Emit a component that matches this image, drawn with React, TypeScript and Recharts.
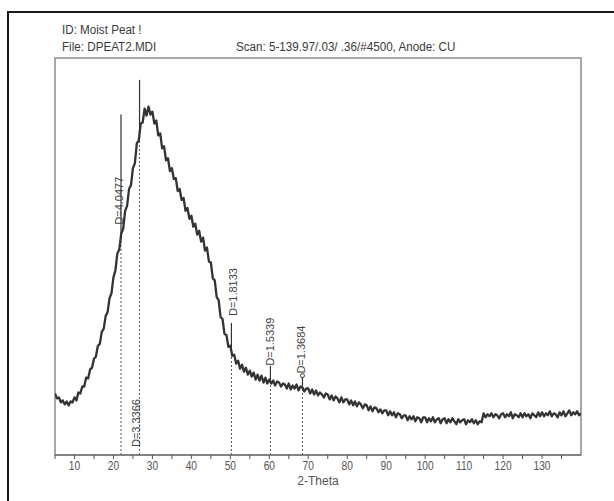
import React from 'react';
import {
  LineChart,
  Line,
  XAxis,
  YAxis,
  ReferenceLine,
  ReferenceArea,
  ReferenceDot,
} from 'recharts';

// Scan parameters (start angle and step of the 2-Theta scan grid)
const SCAN_START = 5;
const SCAN_STEP = 0.5;

// Intensity, one value per 0.5 degree from 5 to 140
const intensity: number[] = [
  62, 57, 58, 53, 55, 51, 54, 50, 54, 53,
  58, 55, 63, 62, 69, 69, 78, 77, 86, 88,
  97, 99, 110, 112, 124, 127, 140, 144, 158, 163,
  179, 186, 203, 207, 223, 228, 246, 251, 268, 272,
  289, 294, 314, 317, 334, 335, 349, 342, 351, 343,
  346, 334, 337, 322, 324, 309, 311, 297, 299, 286,
  289, 278, 279, 266, 268, 257, 259, 246, 249, 238,
  241, 230, 233, 222, 226, 215, 219, 206, 209, 195,
  194, 178, 176, 159, 156, 139, 137, 122, 121, 109,
  110, 100, 101, 92, 95, 87, 91, 84, 88, 81,
  85, 79, 83, 76, 81, 75, 80, 73, 78, 72,
  76, 72, 75, 70, 74, 73, 69, 72, 71, 67,
  72, 66, 70, 67, 71, 65, 69, 68, 64, 67,
  67, 62, 66, 61, 65, 60, 63, 61, 58, 62,
  61, 56, 60, 55, 59, 57, 53, 58, 53, 56,
  56, 51, 55, 50, 54, 49, 53, 51, 47, 51,
  50, 45, 49, 44, 48, 47, 43, 46, 42, 45,
  45, 40, 44, 40, 43, 38, 42, 41, 37, 40,
  40, 35, 39, 36, 39, 34, 38, 37, 33, 38,
  38, 33, 37, 34, 38, 33, 36, 37, 32, 36,
  37, 32, 36, 33, 37, 34, 31, 36, 33, 35,
  36, 31, 35, 33, 36, 32, 35, 31, 34, 33,
  42, 38, 41, 39, 42, 38, 41, 40, 37, 41,
  42, 38, 41, 39, 43, 37, 41, 40, 38, 42,
  38, 42, 39, 41, 37, 42, 40, 38, 43, 39,
  43, 39, 42, 40, 44, 39, 42, 41, 38, 43,
  40, 44, 39, 42, 45, 40, 43, 41, 44, 40,
  42,
];

// X-axis ticks
const majorTicks = [10, 20, 30, 40, 50, 60, 70, 80, 90, 100, 110, 120, 130];
const allTicks = [5, 10, 15, 20, 25, 30, 35, 40, 45, 50, 55, 60, 65, 70, 75, 80, 85, 90, 95, 100, 105, 110, 115, 120, 125, 130, 135];

// Identified peaks
const peakTheta = [21.94, 26.7, 50.28, 60.29, 68.51];
const peakD = ['4.0477', '3.3366', '1.8133', '1.5339', '1.3684'];
const peakTop = [343, 378, 133, 90, 80];
const peakBase = [220, 324, 105, 74, 66];
const labelAt = [232, 8, 140, 90, 82];
const labelDx = [-2, -4, 2, 0, -1];

const data = intensity.map((v, i) => ({ theta: SCAN_START + i * SCAN_STEP, counts: v }));

const FONT = "'Liberation Sans', Arial, sans-serif";

const Tick = (props: any) => {
  const { x, y, payload } = props;
  const v = payload.value;
  if (!majorTicks.includes(v)) return <g />;
  return (
    <text
      transform={`translate(${x},${y}) scale(0.85,1)`}
      x={0}
      y={0}
      dy="0.71em"
      textAnchor="middle"
      fontFamily={FONT}
      fontSize={12}
      fill="#555"
    >
      {v}
    </text>
  );
};

const PeakLabel = (props: any) => {
  const { cx, cy, dx, text } = props;
  if (cx == null || cy == null) return <g />;
  return (
    <text
      transform={`translate(${cx + dx},${cy}) rotate(-90)`}
      x={0}
      y={0}
      textAnchor="start"
      dominantBaseline="central"
      fontFamily={FONT}
      fontSize={11}
      fill="#444"
    >
      {text}
    </text>
  );
};

export default function App() {
  return (
    <div
      style={{
        position: 'absolute',
        left: 0,
        top: 0,
        width: 614,
        height: 501,
        overflow: 'hidden',
        background: '#fff',
      }}
    >
      <div
        style={{
          position: 'absolute',
          left: 7,
          top: 11,
          width: 700,
          height: 600,
          borderLeft: '2px solid #1a1a1a',
          borderTop: '2px solid #1a1a1a',
        }}
      />
      <div style={{ position: 'absolute', left: 62, top: 23, fontFamily: FONT, fontSize: 12, lineHeight: '14px', color: '#3a3a3a', whiteSpace: 'nowrap', transform: 'scaleX(0.97)', transformOrigin: 'left' }}>
        ID: Moist Peat !
      </div>
      <div style={{ position: 'absolute', left: 62, top: 40, fontFamily: FONT, fontSize: 12, lineHeight: '14px', color: '#3a3a3a', whiteSpace: 'nowrap', transform: 'scaleX(0.97)', transformOrigin: 'left' }}>
        File: DPEAT2.MDI
      </div>
      <div style={{ position: 'absolute', left: 236, top: 40, fontFamily: FONT, fontSize: 12, lineHeight: '14px', color: '#3a3a3a', whiteSpace: 'nowrap', transform: 'scaleX(0.97)', transformOrigin: 'left' }}>
        Scan: 5-139.97/.03/ .36/#4500, Anode: CU
      </div>
      <div style={{ position: 'absolute', left: 0, top: 0 }}>
        <LineChart width={614} height={501} data={data} margin={{ top: 58, right: 33, bottom: 16, left: 55 }}>
          <XAxis
            dataKey="theta"
            type="number"
            domain={[5, 140]}
            ticks={allTicks}
            interval={0}
            tick={<Tick />}
            tickSize={4}
            tickLine={{ stroke: '#555' }}
            axisLine={{ stroke: '#777', strokeWidth: 1.5 }}
            height={30}
            allowDataOverflow
            label={{ value: '2-Theta', position: 'insideBottom', offset: 0, style: { fontFamily: FONT, fontSize: 12, fill: '#555' } }}
          />
          <YAxis hide domain={[0, 400]} type="number" allowDataOverflow />
          <ReferenceArea x1={5} x2={140} y1={0} y2={400} fill="none" fillOpacity={0} stroke="#8a8a8a" strokeWidth={1.5} ifOverflow="visible" />
          {peakTheta.map((t, i) => (
            <ReferenceLine
              key={`dash-${i}`}
              segment={[{ x: t, y: 0 }, { x: t, y: peakBase[i] }]}
              stroke="#555"
              strokeWidth={1}
              strokeDasharray="2 2"
              ifOverflow="visible"
            />
          ))}
          <Line
            type="linear"
            dataKey="counts"
            stroke="#333"
            strokeWidth={2.3}
            strokeLinejoin="round"
            dot={false}
            isAnimationActive={false}
          />
          {peakTheta.map((t, i) => (
            <ReferenceLine
              key={`spike-${i}`}
              segment={[{ x: t, y: peakBase[i] }, { x: t, y: peakTop[i] }]}
              stroke="#333"
              strokeWidth={1.2}
              ifOverflow="visible"
            />
          ))}
          <ReferenceDot x={peakTheta[4]} y={peakTop[4]} r={2} fill="#fff" stroke="#333" strokeWidth={1} ifOverflow="visible" />
          {peakTheta.map((t, i) => (
            <ReferenceDot
              key={`lab-${i}`}
              x={t}
              y={labelAt[i]}
              r={0}
              ifOverflow="visible"
              shape={(p: any) => <PeakLabel cx={p.cx} cy={p.cy} dx={labelDx[i]} text={`D=${peakD[i]}`} />}
            />
          ))}
        </LineChart>
      </div>
    </div>
  );
}
